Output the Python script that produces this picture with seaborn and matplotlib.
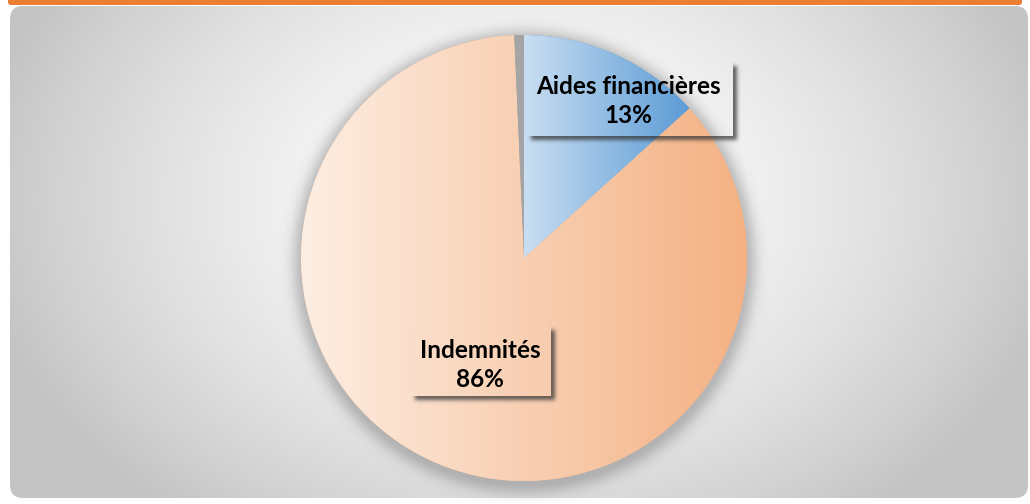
import numpy as np
import matplotlib.pyplot as plt
import matplotlib.colors as mcolors
import seaborn as sns
from matplotlib.patches import FancyBboxPatch

sns.set_theme(style="white")
plt.rcParams['font.family'] = ['Lato', 'DejaVu Sans']

# données
categories = ["Aides financières", "Indemnités", ""]
valeurs = [13.3, 86.0, 0.7]
etiquettes = ["Aides financières\n13%", "Indemnités\n86%", ""]

W, H = 1030, 504
fig = plt.figure(figsize=(W / 100, H / 100), dpi=100)
fig.patch.set_facecolor("white")
ax = fig.add_axes([0, 0, 1, 1])

# bande orange en haut
bande = FancyBboxPatch((8, H - 5), 1014, 12, boxstyle="round,pad=0,rounding_size=3",
                       facecolor="#ED7D31", edgecolor="none", zorder=1)
ax.add_patch(bande)

# rectangle arrondi avec dégradé radial
cadre = FancyBboxPatch((10, 6), 1018, H - 12,
                       boxstyle="round,pad=0,rounding_size=13",
                       facecolor="none", edgecolor="none", zorder=1)
ax.add_patch(cadre)
yy, xx = np.mgrid[0:H, 0:W]
ypix = H - yy
r = np.sqrt(((xx - 520) / 515) ** 2 + ((ypix - 200) / 380) ** 2)
g = np.clip(1 - 0.21 * r ** 1.6, 0.77, 1)
fond = np.dstack([g, g, g])
im = ax.imshow(fond, extent=(0, W, 0, H), origin="lower", zorder=1)
im.set_clip_path(cadre)

# halo / ombre autour du camembert
cx, cy, R = 524, H - 258, 223
d = np.sqrt((xx - cx) ** 2 + ((yy + 0.5) - (cy - 4)) ** 2)
halo = np.zeros((H, W, 4))
halo[..., :3] = 0.45
halo[..., 3] = np.where(d > R - 2, 0.42 * np.exp(-((d - R + 2) / 12.0) ** 2), 0.42)
ax.imshow(halo, extent=(0, W, 0, H), origin="lower", zorder=2)

couleurs = ["#5B9BD5", "#F4B183", "#A5A5A5"]
wedges, _ = ax.pie(valeurs, colors=couleurs, startangle=90, counterclock=False,
                   center=(cx, cy), radius=R, frame=True,
                   wedgeprops=dict(linewidth=0, zorder=3))

# dégradé linéaire dans chaque part (gauche clair -> droite foncé)
degrades = [("#C9DEF2", "#5B9BD5"), ("#FDEEE3", "#F4B183"), ("#A5A5A5", "#A5A5A5")]
for w, (c1, c2) in zip(wedges, degrades):
    bb = w.get_path().get_extents(w.get_transform() - ax.transData)
    c1 = np.array(mcolors.to_rgb(c1))
    c2 = np.array(mcolors.to_rgb(c2))
    t = np.linspace(0, 1, 256)[None, :, None]
    img = np.repeat(c1 + (c2 - c1) * t, 4, axis=0)
    gi = ax.imshow(img, extent=(bb.x0, bb.x1, bb.y0, bb.y1), origin="lower",
                   zorder=4, aspect="auto")
    gi.set_clip_path(w)


def flou(a, s):
    k = np.exp(-0.5 * (np.arange(-3 * s, 3 * s + 1) / s) ** 2)
    k /= k.sum()
    a = np.apply_along_axis(lambda v: np.convolve(v, k, mode="same"), 0, a)
    return np.apply_along_axis(lambda v: np.convolve(v, k, mode="same"), 1, a)


# étiquettes avec ombre portée (bords droit et bas seulement)
boites = [(527, 62, 733, 136, 628, 101), (411, 326, 551, 396, 480, 365)]
for (x0, y0, x1, y1, tx, ty), lab in zip(boites, etiquettes[:2]):
    m = np.zeros((H, W))
    m[y0 + 4:y1 + 4, x0 + 4:x1 + 4] = 1
    m = flou(m, 2)
    m[y0:y1, x0:x1] = 0
    sh = np.zeros((H, W, 4))
    sh[..., :3] = 0.2
    sh[..., 3] = 0.75 * m
    ax.imshow(sh, extent=(0, W, 0, H), origin="upper", zorder=5)
    ax.text(tx, H - ty, lab, ha="center", va="center", fontsize=17.5,
            fontweight="bold", color="black", linespacing=1.35, zorder=6)

ax.set_xlim(0, W)
ax.set_ylim(0, H)
ax.set_aspect("auto")
ax.axis("off")
fig.savefig("out.png", dpi=100)
